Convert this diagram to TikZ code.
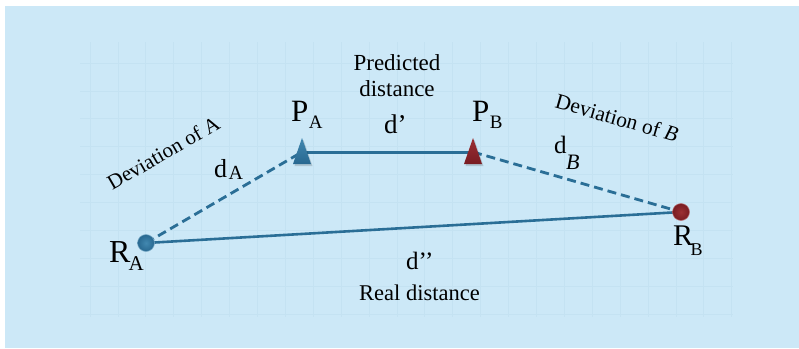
\documentclass[tikz,border=0pt]{standalone}
\usepackage{fontspec}
\setmainfont{Liberation Serif}
\newcommand\myfs[1]{\fontsize{#1}{#1}\selectfont}
\definecolor{bgc}{RGB}{204,232,247}
\definecolor{gridc}{RGB}{196,226,242}
\definecolor{linec}{RGB}{42,110,150}
\definecolor{bluein}{RGB}{66,136,176}
\definecolor{blueout}{RGB}{40,104,144}
\definecolor{redin}{RGB}{156,48,52}
\definecolor{redout}{RGB}{120,28,34}
\pgfdeclarelayer{bglayer}
\pgfdeclarelayer{linelayer}
\pgfsetlayers{bglayer,linelayer,main}
\begin{document}
\begin{tikzpicture}[x=1pt,y=-1pt,
  conn/.style={draw=linec, line width=2.6pt},
  dashconn/.style={conn, line width=2.8pt, dash pattern=on 9pt off 5pt},
  lbl/.style={inner sep=0pt, text=black},
  bluedot/.style={circle, minimum size=17pt, inner sep=0pt, inner color=bluein, outer color=blueout, draw=bluein!70!white, line width=0.5pt},
  reddot/.style={circle, minimum size=17pt, inner sep=0pt, inner color=redin, outer color=redout, draw=redin!70!white, line width=0.5pt},
  marker/.style={inner sep=0pt, minimum size=0pt}
]
\useasboundingbox (0,0) rectangle (799,348);
\begin{pgfonlayer}{bglayer}
\fill[white] (0,0) rectangle (799,348);
\fill[bgc] (5,6) rectangle (799,348);
\foreach \k in {0,...,23} \draw[gridc, line width=0.8pt] ({90+27.9*\k},42) -- ({90+27.9*\k},317);
\foreach \k in {0,...,9} \draw[gridc, line width=0.8pt] (80,{63+27.9*\k}) -- (733,{63+27.9*\k});
\end{pgfonlayer}

% points
\node[bluedot] (RA) at (146,243) {};
\node[reddot] (RB) at (681,212) {};
\node[marker] (PA) at (302,152) {};
\node[marker] (PB) at (473,152) {};

% triangles
\fill[black, opacity=0.15] (PA) ++(1.5,-12) -- ++(-9,26) -- ++(18,0) -- cycle;
\shade[top color=bluein, bottom color=blueout] (PA) ++(0,-14) -- ++(-9,26) -- ++(18,0) -- cycle;
\fill[black, opacity=0.15] (PB) ++(1.5,-12) -- ++(-9,26) -- ++(18,0) -- cycle;
\shade[top color=redin, bottom color=redout] (PB) ++(0,-14) -- ++(-9,26) -- ++(18,0) -- cycle;

% connectors
\begin{pgfonlayer}{linelayer}
\draw[conn, line width=3pt] (PA.center) -- (PB.center);
\draw[conn] (RA.center) -- (RB.center);
\draw[dashconn] (RA.center) -- (PA.center);
\draw[dashconn] (PB.center) -- (RB.center);
\end{pgfonlayer}

% labels
\node[lbl, anchor=base west] (lPA) at (291,121) {\myfs{31}P\kern0.5pt\raisebox{-7pt}{\myfs{19}A}};
\node[lbl, anchor=base west] (lPB) at (472,121) {\myfs{31}P\kern0.5pt\raisebox{-7pt}{\myfs{19}B}};
\node[lbl, anchor=base west] (ld1) at (384,133) {\myfs{27}d’};
\node[lbl, anchor=base west] (ld2) at (406,269) {\myfs{25}d’’};
\node[lbl, anchor=base west] (lRA) at (109,262) {\myfs{32}R\kern-2pt\raisebox{-8pt}{\myfs{21}A}};
\node[lbl, anchor=base west] (lRB) at (673,245) {\myfs{30}R\kern-2.5pt\raisebox{-10pt}{\myfs{18}B}};
\node[lbl, anchor=base west] (ldA) at (214,177) {\myfs{26}d\kern1.5pt\raisebox{-2.5pt}{\myfs{20}A}};
\node[lbl, anchor=base west] (ldB) at (554,153) {\myfs{25}d\kern-0.5pt\raisebox{-16pt}{\myfs{22}\itshape B}};
\node[lbl, anchor=north, align=center, font={\fontsize{23}{26}\selectfont}] (lpred) at (397,54.5) {Predicted\\distance};
\node[lbl, anchor=base west, font=\myfs{22.5}] (lreal) at (359,300) {Real distance};
\node[lbl, anchor=base, rotate=30, font=\myfs{21}] (ldevA) at (167,159) {Deviation of A};
\node[lbl, anchor=base, rotate=-16, font=\myfs{21.5}] (ldevB) at (615,125) {Deviation of \textit{B}};
\end{tikzpicture}
\end{document}
